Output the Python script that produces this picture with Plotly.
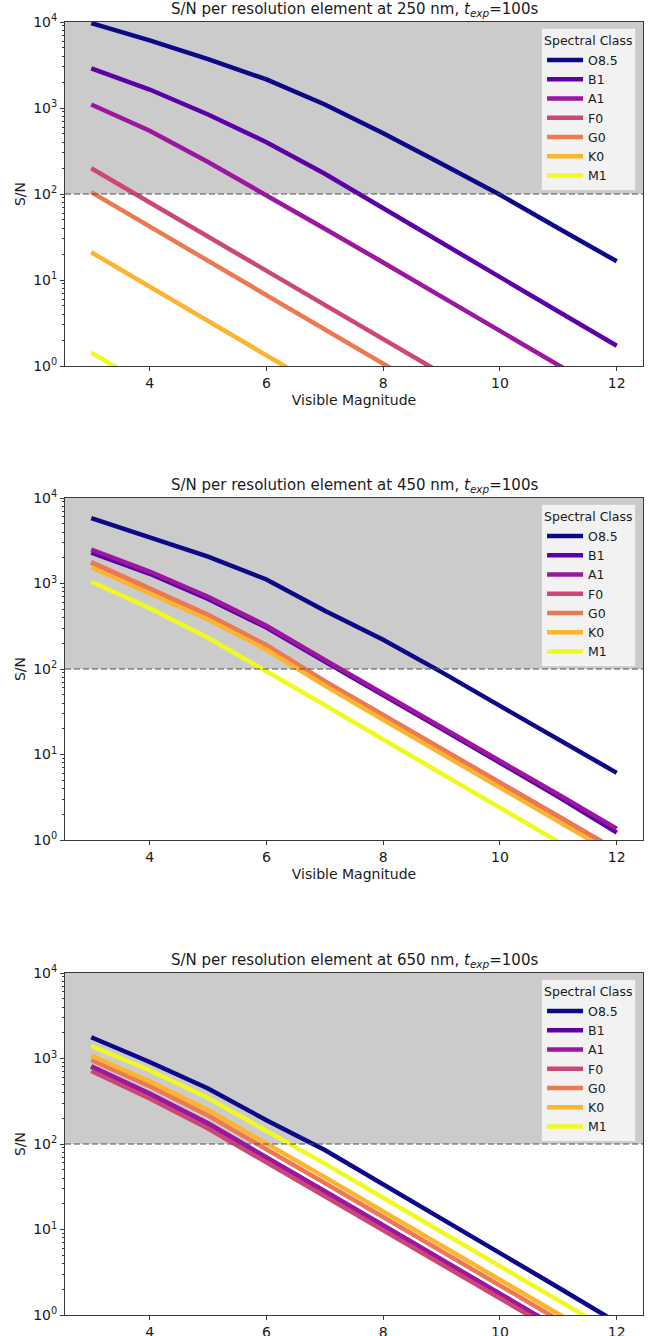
import plotly.graph_objects as go

# Visible magnitudes sampled for every spectral class
magnitudes = [3, 4, 5, 6, 7, 8, 9, 10, 11, 12]

spectral_classes = ["O8.5", "B1", "A1", "F0", "G0", "K0", "M1"]
class_colors = ["#0d0887", "#5c01a6", "#9c179e", "#cc4778", "#ed7953", "#fdb42f", "#f0f921"]

wavelengths_nm = [250, 450, 650]

# S/N per resolution element, 250 nm
sn250_O85 = [9700, 6100, 3700, 2150, 1100, 510, 225, 98, 40, 16.5]
sn250_B1 = [2880, 1640, 840, 400, 172, 68, 27, 10.8, 4.3, 1.72]
sn250_A1 = [1100, 545, 235, 98, 39.5, 16, 6.4, 2.55, 1.02, 0.41]
sn250_F0 = [199, 80, 32, 12.8, 5.1, 2.05, 0.82, 0.33, 0.13, 0.053]
sn250_G0 = [105, 42, 16.7, 6.6, 2.65, 1.05, 0.42, 0.17, 0.067, 0.027]
sn250_K0 = [21, 8.3, 3.3, 1.32, 0.53, 0.21, 0.085, 0.034, 0.013, 0.0054]
sn250_M1 = [1.43, 0.57, 0.23, 0.09, 0.036, 0.014, 0.0057, 0.0023, 0.0009, 0.00036]

# S/N per resolution element, 450 nm
sn450_O85 = [5800, 3470, 2065, 1115, 480, 220, 92, 37, 15, 6.1]
sn450_B1 = [2300, 1300, 660, 305, 122, 50, 20, 8.0, 3.2, 1.22]
sn450_A1 = [2500, 1380, 700, 320, 128, 52, 21, 8.5, 3.4, 1.36]
sn450_F0 = [1760, 870, 425, 188, 71, 28.7, 11.4, 4.65, 1.88, 0.75]
sn450_G0 = [1780, 880, 430, 190, 72, 29, 11.5, 4.7, 1.9, 0.76]
sn450_K0 = [1550, 780, 380, 168, 64, 25.5, 10.2, 4.1, 1.65, 0.66]
sn450_M1 = [1050, 515, 232, 95, 38, 15, 6.0, 2.4, 0.95, 0.38]

# S/N per resolution element, 650 nm
sn650_O85 = [1770, 910, 445, 190, 85, 34, 13.5, 5.3, 2.1, 0.82]
sn650_B1 = [800, 385, 172, 70, 27.8, 11.1, 4.4, 1.76, 0.70, 0.28]
sn650_A1 = [810, 390, 175, 71, 28, 11.2, 4.45, 1.78, 0.71, 0.28]
sn650_F0 = [715, 340, 152, 62, 24.5, 9.8, 3.9, 1.56, 0.62, 0.25]
sn650_G0 = [960, 475, 215, 88, 35, 14, 5.6, 2.2, 0.88, 0.35]
sn650_K0 = [1080, 540, 250, 103, 41, 16.3, 6.5, 2.6, 1.03, 0.41]
sn650_M1 = [1400, 730, 345, 145, 59, 23.5, 9.4, 3.7, 1.48, 0.59]

panels = [
    [sn250_O85, sn250_B1, sn250_A1, sn250_F0, sn250_G0, sn250_K0, sn250_M1],
    [sn450_O85, sn450_B1, sn450_A1, sn450_F0, sn450_G0, sn450_K0, sn450_M1],
    [sn650_O85, sn650_B1, sn650_A1, sn650_F0, sn650_G0, sn650_K0, sn650_M1],
]

SN_TARGET = 100
SN_MIN, SN_MAX = 1, 10000
MAG_RANGE = [2.55, 12.45]

y_tick_vals = [1, 10, 100, 1000, 10000]
y_tick_text = ["10<sup>0</sup>", "10<sup>1</sup>", "10<sup>2</sup>", "10<sup>3</sup>", "10<sup>4</sup>"]
y_minor_vals = [m * d for d in (1, 10, 100, 1000) for m in range(2, 10)]
x_tick_vals = [4, 6, 8, 10, 12]

FONT = "DejaVu Sans, Liberation Sans, sans-serif"
AXIS_COLOR = "#3a3a3a"
TEXT_COLOR = "#1a1a1a"

W, H = 650, 1336
M_T, M_B, M_L, M_R = 22, 21, 65, 7
plot_h = H - M_T - M_B

# vertical pixel extents of each panel's plotting area
panel_px = [(22, 366), (498, 840), (973, 1315)]


def to_paper(py):
    return (H - M_B - py) / plot_h


fig = go.Figure()

layout = dict(
    width=W,
    height=H,
    template="none",
    margin=dict(t=M_T, b=M_B, l=M_L, r=M_R),
    paper_bgcolor="white",
    plot_bgcolor="white",
    font=dict(family=FONT, size=13, color=TEXT_COLOR),
    showlegend=True,
    shapes=[],
    annotations=[],
)

for i, (wl, series) in enumerate(zip(wavelengths_nm, panels)):
    n = i + 1
    xa = "x" if n == 1 else f"x{n}"
    ya = "y" if n == 1 else f"y{n}"
    leg = "legend" if n == 1 else f"legend{n}"
    top_px, bot_px = panel_px[i]

    for cls, color, values in zip(spectral_classes, class_colors, series):
        fig.add_trace(
            go.Scatter(
                x=magnitudes,
                y=values,
                mode="lines",
                name=cls,
                line=dict(color=color, width=4.5),
                xaxis=xa,
                yaxis=ya,
                legend=leg,
                hoverinfo="x+y+name",
            )
        )

    # the lowest panel's axis label falls below the page edge
    x_title = "Visible Magnitude" if n < 3 else ""
    layout[f"xaxis{'' if n == 1 else n}"] = dict(
        domain=[0, 1],
        anchor=ya,
        range=MAG_RANGE,
        tickmode="array",
        tickvals=x_tick_vals,
        ticks="outside",
        ticklen=4,
        tickwidth=1,
        tickcolor=AXIS_COLOR,
        showgrid=False,
        zeroline=False,
        showline=True,
        linecolor=AXIS_COLOR,
        linewidth=1,
        mirror=True,
        automargin=False,
        tickfont=dict(size=14, color=TEXT_COLOR),
        title=dict(text=x_title, font=dict(size=14, color=TEXT_COLOR), standoff=5),
    )
    layout[f"yaxis{'' if n == 1 else n}"] = dict(
        domain=[to_paper(bot_px), to_paper(top_px)],
        anchor=xa,
        type="log",
        range=[0, 4],
        tickmode="array",
        tickvals=y_tick_vals,
        ticktext=y_tick_text,
        ticks="outside",
        ticklen=4,
        tickwidth=1,
        tickcolor=AXIS_COLOR,
        minor=dict(ticks="outside", ticklen=2, tickwidth=0.8, tickcolor=AXIS_COLOR,
                   tickmode="array", tickvals=y_minor_vals, showgrid=False),
        showgrid=False,
        zeroline=False,
        showline=True,
        linecolor=AXIS_COLOR,
        linewidth=1,
        mirror=True,
        automargin=False,
        tickfont=dict(size=14, color=TEXT_COLOR),
        title=dict(text="S/N", font=dict(size=14, color=TEXT_COLOR), standoff=4),
    )

    # shaded band above the S/N target and the dashed target line
    layout["shapes"].append(dict(
        type="rect", xref=f"{xa} domain", yref=ya,
        x0=0, x1=1, y0=SN_TARGET, y1=SN_MAX,
        fillcolor="#cbcbcb", line=dict(width=0), layer="below",
    ))
    layout["shapes"].append(dict(
        type="line", xref=f"{xa} domain", yref=ya,
        x0=0, x1=1, y0=SN_TARGET, y1=SN_TARGET,
        line=dict(color="#505050", width=1.2, dash="6px,3px"), layer="above",
    ))

    layout["annotations"].append(dict(
        xref=f"{xa} domain", yref=f"{ya} domain",
        x=0.5, y=1, yanchor="bottom", yshift=1,
        showarrow=False,
        text=f"S/N per resolution element at {wl} nm, <i>t<sub>exp</sub></i>=100s",
        font=dict(size=15, color=TEXT_COLOR),
    ))

    layout[leg] = dict(
        x=0.988, xanchor="right",
        y=to_paper(top_px + 6), yanchor="top",
        bgcolor="rgba(255,255,255,0.75)",
        bordercolor="#d0d0d0",
        borderwidth=1,
        title=dict(text="Spectral Class", font=dict(size=12.5, color=TEXT_COLOR)),
        font=dict(size=12.5, color=TEXT_COLOR),
        tracegroupgap=0,
        itemwidth=36,
    )

fig.update_layout(**layout)
fig.write_html("out.html")
